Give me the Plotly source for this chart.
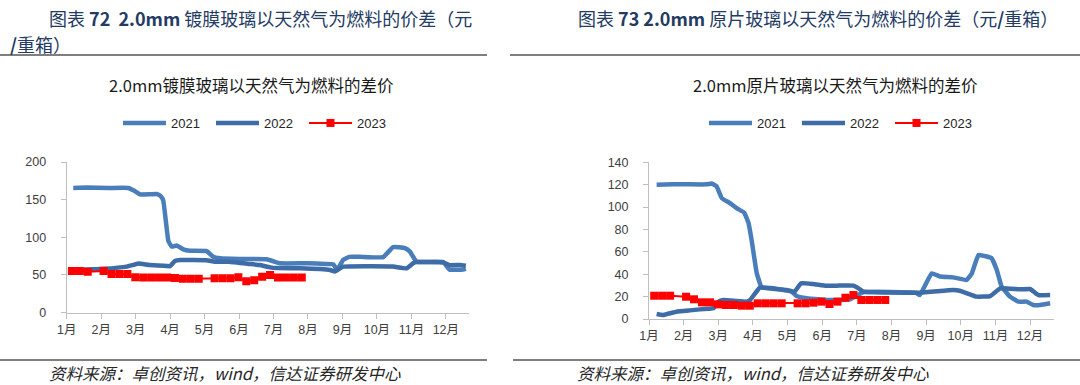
import plotly.graph_objects as go

# ---------------- data ----------------
month_labels = ["1月", "2月", "3月", "4月", "5月", "6月", "7月", "8月", "9月", "10月", "11月", "12月"]
month_ticks = [1, 2, 3, 4, 5, 6, 7, 8, 9, 10, 11, 12]

# Left chart: 2.0mm coated glass
coat_2021_x = [1.19, 1.6, 2.2, 2.79, 2.95, 3.13, 3.4, 3.61, 3.72, 3.80, 3.88, 3.95, 4.05, 4.19, 4.38, 4.58,
               5.06, 5.25, 5.45, 6.0, 6.8, 7.0, 7.19, 8.0, 8.5, 8.73, 8.85, 9.02, 9.2, 9.51, 10.18, 10.47,
               10.81, 10.96, 11.15, 11.92, 12.11, 12.5, 12.58]
coat_2021_y = [165.5, 166, 165.5, 165.5, 162, 157, 157, 157.5, 155, 149, 120, 95, 87.5, 89, 84, 82,
               81.5, 74, 72, 71, 70.7, 68, 65.4, 65.4, 64.5, 64, 57, 70, 74, 74, 73.5, 87,
               85.5, 80.8, 67.5, 67, 57, 57, 58]

coat_2022_x = [1.15, 1.77, 2.06, 2.74, 2.95, 3.08, 3.4, 3.9, 4.0, 4.14, 4.3, 5.06, 5.3, 5.7, 6.3, 6.6,
               6.9, 7.1, 7.77, 8.64, 8.78, 9.02, 9.7, 10.47, 10.86, 11.05, 11.15, 11.92, 12.1, 12.41, 12.58]
coat_2022_y = [56, 57.4, 58, 61, 63.5, 65, 63, 61.8, 61.5, 68.5, 69.8, 69.5, 67.5, 67.5, 64.5, 63,
               60, 59, 58.7, 56.5, 54.5, 60.9, 61.5, 61, 58.7, 65.4, 67, 66.5, 63, 63, 62]

# 2023 weekly points (same dates in both charts)
x_2023 = [1.15, 1.38, 1.61, 2.07, 2.30, 2.53, 2.76, 2.99, 3.22, 3.45, 3.68, 3.91, 4.14, 4.37, 4.60, 4.83,
          5.29, 5.52, 5.75, 5.98, 6.21, 6.44, 6.67, 6.90, 7.13, 7.36, 7.59, 7.82]
coat_2023_y = [55, 55, 54, 55, 51, 51, 51, 47, 46.5, 46.5, 46.5, 46.5, 46, 45, 45, 45,
               45.5, 45.5, 45.5, 47, 41.5, 43, 47.5, 50, 46.5, 46.5, 46.5, 46.5]

# Right chart: 2.0mm raw glass
raw_2021_x = [1.22, 1.70, 2.18, 2.67, 2.81, 2.95, 3.10, 3.34, 3.53, 3.75, 3.87, 3.96, 4.11, 4.25, 4.59,
              4.95, 5.12, 5.26, 5.55, 5.94, 6.23, 6.8, 7.0, 7.2, 8.7, 8.82, 9.16, 9.40, 9.78, 10.17,
              10.32, 10.51, 10.75, 10.89, 11.04, 11.18, 11.42, 11.66, 11.90, 12.09, 12.29, 12.58]
raw_2021_y = [120, 120.5, 120.3, 120.3, 121, 118.5, 108, 103.5, 99, 95, 86, 71, 41, 28.5, 27.5,
              25.5, 24.5, 20.5, 18.5, 17.5, 17, 17.5, 21, 24, 23.5, 21.4, 40.8, 38, 37.2, 34.9,
              40.8, 57.2, 55.8, 54.3, 43.8, 28.9, 20, 15.5, 15.5, 12.5, 12.5, 14]

raw_2022_x = [1.22, 1.41, 1.79, 2.18, 2.47, 2.72, 2.86, 3.01, 3.15, 3.53, 3.82, 3.92, 4.2, 4.59, 4.97,
              5.2, 5.39, 5.73, 6.12, 6.42, 6.90, 7.05, 7.19, 8.82, 9.78, 9.97, 10.46, 10.85, 11.14,
              11.71, 12.0, 12.24, 12.58]
raw_2022_y = [4.5, 3.6, 6.5, 7.7, 8.6, 9.2, 9.5, 15.5, 17, 16, 15.5, 17, 28, 27, 26,
              24.4, 31.9, 31.3, 29.8, 29.8, 29.8, 27.4, 24.4, 23.5, 25.9, 25.3, 20, 20.5, 27.4,
              26.5, 26.8, 21.4, 21.4]

raw_2023_y = [20.8, 20.8, 20.8, 19.9, 17.6, 14.9, 14.9, 13.1, 12.5, 12.5, 11.9, 11.9, 14, 14, 14, 14,
              14, 14, 14.6, 15.5, 13.4, 15.5, 19, 21.4, 17, 17, 17, 17]

# ---------------- styles ----------------
C2021 = "#4A7EBB"
C2022 = "#3D6CA7"
C2023 = "#FF0000"
W, H = 1080, 385
FONT_NUM = "Liberation Sans, Arial, Noto Sans CJK SC, sans-serif"
FONT_CJK = "Noto Sans CJK SC, sans-serif"
HEAD_C = "#243B63"

fig = go.Figure()


def add_series(x, y, name, color, xa, ya, legend, markers=False):
    if markers:
        fig.add_trace(go.Scatter(
            x=x, y=y, name=name, mode="lines+markers", xaxis=xa, yaxis=ya, legend=legend,
            line=dict(color=color, width=2),
            marker=dict(symbol="square", size=8, color=color)))
    else:
        fig.add_trace(go.Scatter(
            x=x, y=y, name=name, mode="lines", xaxis=xa, yaxis=ya, legend=legend,
            line=dict(color=color, width=4.5, shape="spline", smoothing=0.3)))


add_series(coat_2021_x, coat_2021_y, "2021", C2021, "x", "y", "legend")
add_series(coat_2022_x, coat_2022_y, "2022", C2022, "x", "y", "legend")
add_series(x_2023, coat_2023_y, "2023", C2023, "x", "y", "legend", markers=True)
add_series(raw_2021_x, raw_2021_y, "2021", C2021, "x2", "y2", "legend2")
add_series(raw_2022_x, raw_2022_y, "2022", C2022, "x2", "y2", "legend2")
add_series(x_2023, raw_2023_y, "2023", C2023, "x2", "y2", "legend2", markers=True)

axis_common = dict(showgrid=False, zeroline=False, showline=True, linecolor="#BFBFBF", linewidth=1,
                   ticks="outside", tickcolor="#BFBFBF", ticklen=5, tickwidth=1,
                   tickfont=dict(family=FONT_NUM, size=12.5, color="#404040"), fixedrange=True)

fig.update_layout(
    width=W, height=H, autosize=False,
    margin=dict(l=0, r=0, t=0, b=0, autoexpand=False),
    paper_bgcolor="white", plot_bgcolor="white",
    xaxis=dict(domain=[66.7 / W, 469.3 / W], range=[1, 12.68], tickvals=month_ticks, ticktext=month_labels,
               anchor="y", ticklabelstandoff=0, **axis_common),
    yaxis=dict(domain=[1 - 312.5 / H, 1 - 162 / H], range=[0, 200], dtick=50, anchor="x",
               ticklabelstandoff=12, **axis_common),
    xaxis2=dict(domain=[649 / W, 1054.3 / W], range=[1, 12.70], tickvals=month_ticks, ticktext=month_labels,
                anchor="y2", ticklabelstandoff=0, **axis_common),
    yaxis2=dict(domain=[1 - 319 / H, 1 - 162.3 / H], range=[0, 140], dtick=20, anchor="x2",
                ticklabelstandoff=12, **axis_common),
    legend=dict(orientation="h", x=118 / W, y=1 - 123 / H, xanchor="left", yanchor="middle",
                font=dict(family=FONT_NUM, size=13, color="#262626"), itemwidth=43,
                entrywidth=35, bgcolor="rgba(0,0,0,0)"),
    legend2=dict(orientation="h", x=704 / W, y=1 - 123 / H, xanchor="left", yanchor="middle",
                 font=dict(family=FONT_NUM, size=13, color="#262626"), itemwidth=43,
                 entrywidth=35, bgcolor="rgba(0,0,0,0)"),
    showlegend=True,
)

annotations = [
    # section headers
    dict(x=47 / W, y=1 - 18 / H, text="图表 <b>72  2.0mm</b> 镀膜玻璃以天然气为燃料的价差（元",
         xanchor="left", yanchor="middle", font=dict(family=FONT_CJK, size=18, color=HEAD_C)),
    dict(x=8 / W, y=1 - 44 / H, text="<b>/</b>重箱）",
         xanchor="left", yanchor="middle", font=dict(family=FONT_CJK, size=18, color=HEAD_C)),
    dict(x=576 / W, y=1 - 18 / H, text="图表 <b>73 2.0mm</b> 原片玻璃以天然气为燃料的价差（元<b>/</b>重箱）",
         xanchor="left", yanchor="middle", font=dict(family=FONT_CJK, size=18, color=HEAD_C)),
    # chart titles
    dict(x=251 / W, y=1 - 85 / H, text="2.0mm镀膜玻璃以天然气为燃料的差价",
         xanchor="center", yanchor="middle", font=dict(family=FONT_CJK, size=16.5, color="#1A1A1A")),
    dict(x=835 / W, y=1 - 85 / H, text="2.0mm原片玻璃以天然气为燃料的差价",
         xanchor="center", yanchor="middle", font=dict(family=FONT_CJK, size=16.5, color="#1A1A1A")),
    # sources
    dict(x=47 / W, y=1 - 373 / H, text="资料来源：卓创资讯，wind，信达证券研发中心",
         xanchor="left", yanchor="middle", font=dict(family=FONT_CJK, size=16.5, color="#262626", style="italic")),
    dict(x=575 / W, y=1 - 373 / H, text="资料来源：卓创资讯，wind，信达证券研发中心",
         xanchor="left", yanchor="middle", font=dict(family=FONT_CJK, size=16.5, color="#262626", style="italic")),
]
for a in annotations:
    a.update(xref="paper", yref="paper", showarrow=False)
fig.update_layout(annotations=annotations)

line_style = dict(color="#7F7F7F", width=2)
shapes = [
    dict(type="line", x0=0, x1=487 / W, y0=1 - 55 / H, y1=1 - 55 / H, line=line_style),
    dict(type="line", x0=510 / W, x1=1, y0=1 - 55 / H, y1=1 - 55 / H, line=line_style),
    dict(type="line", x0=0, x1=487 / W, y0=1 - 360 / H, y1=1 - 360 / H, line=line_style),
    dict(type="line", x0=513 / W, x1=1, y0=1 - 360 / H, y1=1 - 360 / H, line=line_style),
]
for s in shapes:
    s.update(xref="paper", yref="paper")
fig.update_layout(shapes=shapes)

fig.write_html("out.html", config={"displayModeBar": False},
               post_script="document.body.style.margin='0';document.body.style.overflow='hidden';")
